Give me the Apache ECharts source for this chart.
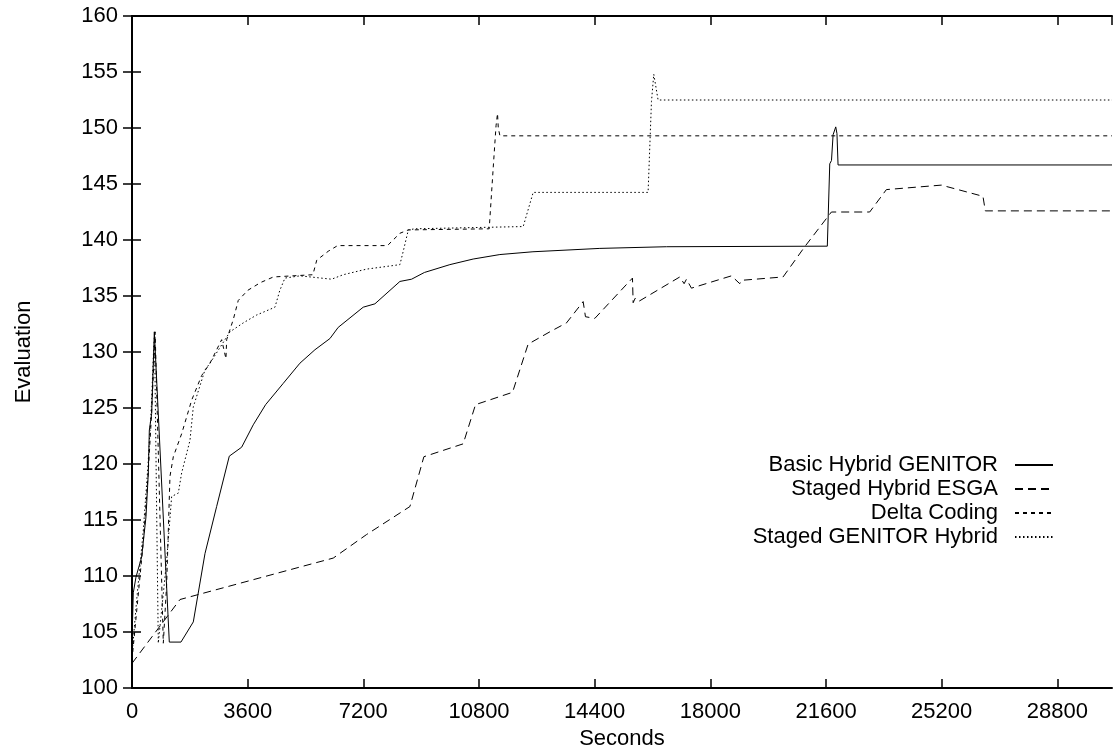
<!DOCTYPE html>
<html lang="en">
<head>
    <meta charset="UTF-8">
    <title>Evaluation vs Seconds</title>
    <script src="https://cdn.jsdelivr.net/npm/echarts@6/dist/echarts.min.js"></script>
    <style>
        *{
            margin: 0;
            padding: 0;
        }
        html,body{
            width: 100%;
            height: 100%;
            overflow: hidden;
            background: #fff;
        }
        .container{
            width: 1117px;
            height: 746px;
        }
    </style>
</head>
<body>
<div class="container"></div>
<script>
    // series names, same order as the legend
    const names = ['Basic Hybrid GENITOR', 'Staged Hybrid ESGA', 'Delta Coding', 'Staged GENITOR Hybrid'];

    // [seconds, evaluation]
    const basicHybrid = [[0,104.2],[40,108.5],[124,109.9],[301,111.7],[436,115.3],[508,119.2],[539,123.0],[612,124.5],[695,131.8],
        [1161,104.1],[1524,104.1],[1908,105.9],[2271,112.0],[2634,116.2],[3028,120.7],[3413,121.5],[3774,123.5],[4159,125.3],
        [4707,127.2],[5226,129.0],[5693,130.2],[6160,131.2],[6418,132.2],[7196,134.0],[7560,134.3],[8338,136.3],[8701,136.5],
        [9100,137.1],[9893,137.8],[10618,138.3],[11449,138.7],[12479,138.95],[14560,139.25],[16635,139.4],[21640,139.45],
        [21716,146.8],[21770,147.1],[21820,149.4],[21902,150.1],[21940,149.5],[21974,146.7],[30500,146.7]];

    const stagedESGA = [[0,102.2],[1493,107.9],[5226,110.8],[6263,111.6],[7300,113.7],[8649,116.2],[9084,120.65],[10307,121.8],
        [10691,125.3],[11843,126.4],[12328,130.7],[13004,131.8],[13523,132.6],[14041,134.5],[14113,133.15],[14404,133.0],
        [15576,136.6],[15597,134.4],[15660,134.8],[15760,134.5],[17048,136.7],[17183,136.1],[17256,136.5],[17411,135.7],
        [18656,136.8],[18915,136.1],[18967,136.4],[20263,136.7],[20937,139.4],[21767,142.5],[22959,142.5],[23478,144.5],
        [25189,144.9],[26484,143.9],[26557,142.6],[30500,142.6]];

    const deltaCoding = [[0,102.5],[150,107],[350,113],[500,119],[600,124],[680,129],[720,131.8],[974,104.0],[1079,109.3],
        [1182,118.9],[1286,120.65],[1545,122.7],[1857,125.7],[2168,127.9],[2427,129.0],[2790,131.1],[2924,129.4],[2946,131.1],
        [3152,132.9],[3307,134.6],[3600,135.5],[4000,136.2],[4400,136.7],[5000,136.8],[5630,136.9],[5750,138.2],[6110,139.0],
        [6400,139.5],[7950,139.5],[8338,140.6],[8600,140.9],[11117,141.0],[11250,146.8],[11330,150.2],[11376,151.3],
        [11400,150.0],[11450,149.3],[30500,149.3]];

    const stagedGenitor = [[0,103],[150,108],[350,114],[500,120],[600,125],[670,130],[700,131.6],[818,104.0],[1079,111.4],
        [1234,117.1],[1441,117.4],[1545,119.2],[1804,122.1],[1908,125.1],[2271,128.4],[2427,129.0],[3049,131.8],[3463,132.6],
        [3878,133.3],[4449,134.0],[4600,135.5],[4760,136.6],[5226,136.8],[6212,136.5],[6574,136.9],[7300,137.4],[8338,137.8],
        [8442,139.0],[8600,140.9],[8800,141.0],[12175,141.2],[12486,144.25],[16062,144.25],[16167,152.35],[16239,154.8],
        [16373,152.5],[30500,152.5]];

    window.onload = function () {
        let container = document.querySelector('.container')
        let mycharts = echarts.init(container)

        const font = 'Liberation Sans, Arial, Helvetica, sans-serif'
        const dashes = ['solid', [8, 5], [4, 4], [1.5, 2.5]]
        const allData = [basicHybrid, stagedESGA, deltaCoding, stagedGenitor]

        let series = names.map((name, i) => ({
            name: name,
            type: 'line',
            data: allData[i],
            symbol: 'none',
            animation: false,
            lineStyle: {color: '#000', width: 1, type: dashes[i]},
            itemStyle: {color: '#000'}
        }))

        // one legend per row so the text ends line up on the right
        let legends = names.map((name, i) => ({
            data: [name],
            right: 58,
            top: 449 + i * 24,
            align: 'right',
            itemWidth: 38,
            itemHeight: 14,
            selectedMode: false,
            itemStyle: {color: 'rgba(0,0,0,0)', borderWidth: 0},
            textStyle: {fontFamily: font, fontSize: 22, color: '#000', lineHeight: 22, padding: [0, 12, 0, 0]}
        }))

        const axisLine = {show: true, lineStyle: {color: '#000', width: 2}}
        const tick = {show: true, inside: true, length: 9, lineStyle: {color: '#000', width: 1.5}}

        let options = {
            backgroundColor: '#fff',
            animation: false,
            grid: {left: 132, right: 5, top: 16, bottom: 58, outerBoundsMode: 'none', containLabel: false},
            legend: legends,
            xAxis: [{
                type: 'value', min: 0, max: 30500, interval: 3600,
                name: 'Seconds', nameLocation: 'middle', nameGap: 39,
                nameTextStyle: {fontFamily: font, fontSize: 22, color: '#000'},
                axisLine: axisLine, axisTick: tick, splitLine: {show: false},
                axisLabel: {fontFamily: font, fontSize: 22, color: '#000', margin: 13, showMaxLabel: false,
                    formatter: v => String(v)}
            }, {
                type: 'value', min: 0, max: 30500, interval: 3600, position: 'top',
                axisLine: axisLine, axisTick: tick, splitLine: {show: false},
                axisLabel: {show: false}
            }],
            yAxis: [{
                type: 'value', min: 100, max: 160, interval: 5,
                name: 'Evaluation', nameLocation: 'middle', nameGap: 97, nameRotate: 90,
                nameTextStyle: {fontFamily: font, fontSize: 22, color: '#000'},
                axisLine: axisLine, axisTick: tick, splitLine: {show: false},
                axisLabel: {fontFamily: font, fontSize: 22, color: '#000', margin: 14}
            }, {
                type: 'value', min: 100, max: 160, interval: 5, position: 'right',
                axisLine: axisLine, axisTick: tick, splitLine: {show: false},
                axisLabel: {show: false}
            }],
            series
        }

        mycharts.setOption(options)
    }
</script>
</body>
</html>
